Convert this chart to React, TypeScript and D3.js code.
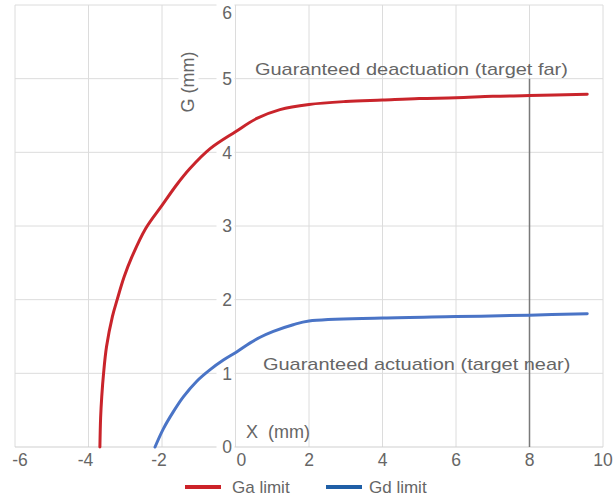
import React from "react";
import * as d3 from "d3";

const width = 616;
const height = 499;

// Ga limit (red)
const gaX = [-3.69, -3.67, -3.64, -3.59, -3.51, -3.35, -3.22, -3.03, -2.82, -2.44, -2.0, -1.6, -1.24, -0.69, 0, 0.58, 1.21, 2.0, 3, 4, 5, 6, 7, 8, 9.57];
const gaY = [0, 0.4, 0.68, 1.0, 1.36, 1.77, 2.0, 2.31, 2.58, 2.97, 3.28, 3.56, 3.78, 4.05, 4.28, 4.46, 4.58, 4.65, 4.69, 4.71, 4.73, 4.74, 4.76, 4.77, 4.79];

// Gd limit (blue)
const gdX = [-2.19, -1.96, -1.69, -1.42, -1.06, -0.69, -0.33, 0.03, 0.39, 0.67, 1.03, 1.57, 2.0, 4, 6, 8, 9.57];
const gdY = [0, 0.25, 0.48, 0.68, 0.89, 1.05, 1.18, 1.29, 1.41, 1.49, 1.57, 1.66, 1.71, 1.75, 1.77, 1.79, 1.81];

const xTicks = [-6, -4, -2, 0, 2, 4, 6, 8, 10];
const yTicks = [0, 1, 2, 3, 4, 5, 6];
const markerX = 8;
const markerTop = 5;

const series = [
  { name: "Ga limit", xs: gaX, ys: gaY, color: "#c9242b", legend: "#cc2229" },
  { name: "Gd limit", xs: gdX, ys: gdY, color: "#4a74c6", legend: "#1f5fa6" },
];

const font = "'Liberation Sans', Arial, sans-serif";
const textColor = "#666666";

export default function App() {
  const xScale = d3.scaleLinear().domain([-6, 10]).range([15, 603]);
  const yScale = d3.scaleLinear().domain([0, 6]).range([447, 5]);
  const x0 = xScale(0);

  const line = d3
    .line<[number, number]>()
    .x((d) => xScale(d[0]))
    .y((d) => yScale(d[1]))
    .curve(d3.curveCatmullRom.alpha(0.5));

  return (
    <svg
      width={width}
      height={height}
      style={{ position: "absolute", left: 0, top: 0, background: "#fff" }}
      fontFamily={font}
    >
      {/* grid */}
      {xTicks.map((t) => (
        <line key={"gx" + t} x1={xScale(t)} x2={xScale(t)} y1={yScale(6)} y2={yScale(0)} stroke="#dcdcdc" />
      ))}
      {yTicks.map((t) => (
        <line key={"gy" + t} x1={xScale(-6)} x2={xScale(10)} y1={yScale(t)} y2={yScale(t)} stroke={t === 0 ? "#cfcfcf" : "#dcdcdc"} />
      ))}

      {/* y tick labels with white background */}
      {yTicks.map((t) => {
        const y = t === 6 ? yScale(t) + 8 : yScale(t);
        return (
          <g key={"yl" + t}>
            <rect x={x0 - 19} y={y - 9} width={18} height={18} fill="#fff" />
            <text x={x0 - 3.5} y={y + 6.3} textAnchor="end" fontSize={17.5} fill={textColor}>
              {t}
            </text>
          </g>
        );
      })}

      {/* x tick labels */}
      {xTicks.map((t) => {
        const px = xScale(t);
        let anchor = "middle";
        let tx = px - (t < 0 ? 3 : 0);
        if (t === 0) {
          anchor = "start";
          tx = px + 1;
        }
        if (t === -6) tx = px + 5;
        return (
          <text key={"xl" + t} x={tx} y={466} textAnchor={anchor} fontSize={17.5} fill={textColor}>
            {t}
          </text>
        );
      })}

      {/* axis titles */}
      <g transform="translate(193.5,82) rotate(-90)">
        <rect x={-32} y={-15} width={64} height={20} fill="#fff" />
        <text textAnchor="middle" fontSize={18} fill={textColor}>
          G (mm)
        </text>
      </g>
      <text x={246} y={438} fontSize={18} fill={textColor} style={{ whiteSpace: "pre" }}>
        {"X  (mm)"}
      </text>

      {/* marker line */}
      <line x1={xScale(markerX)} x2={xScale(markerX)} y1={yScale(markerTop)} y2={yScale(0)} stroke="#7a7a7a" strokeWidth={1.5} />

      {/* curves */}
      {series.map((s) => (
        <path
          key={s.name}
          d={line(s.xs.map((x, i) => [x, s.ys[i]] as [number, number])) || ""}
          fill="none"
          stroke={s.color}
          strokeWidth={3}
          strokeLinecap="round"
          strokeLinejoin="round"
        />
      ))}

      {/* annotations */}
      <text transform="translate(255,74.5) scale(1.175,1)" fontSize={17} fill={textColor}>
        Guaranteed deactuation (target far)
      </text>
      <text transform="translate(263,370) scale(1.175,1)" fontSize={17} fill={textColor}>
        Guaranteed actuation (target near)
      </text>

      {/* legend */}
      {series.map((s, i) => {
        const lx = i === 0 ? 185 : 326;
        return (
          <g key={"lg" + s.name}>
            <line x1={lx} x2={lx + 36} y1={487} y2={487} stroke={s.legend} strokeWidth={4} />
            <text x={lx + (i === 0 ? 47 : 43)} y={493} fontSize={17} fill={textColor}>
              {s.name}
            </text>
          </g>
        );
      })}
    </svg>
  );
}
